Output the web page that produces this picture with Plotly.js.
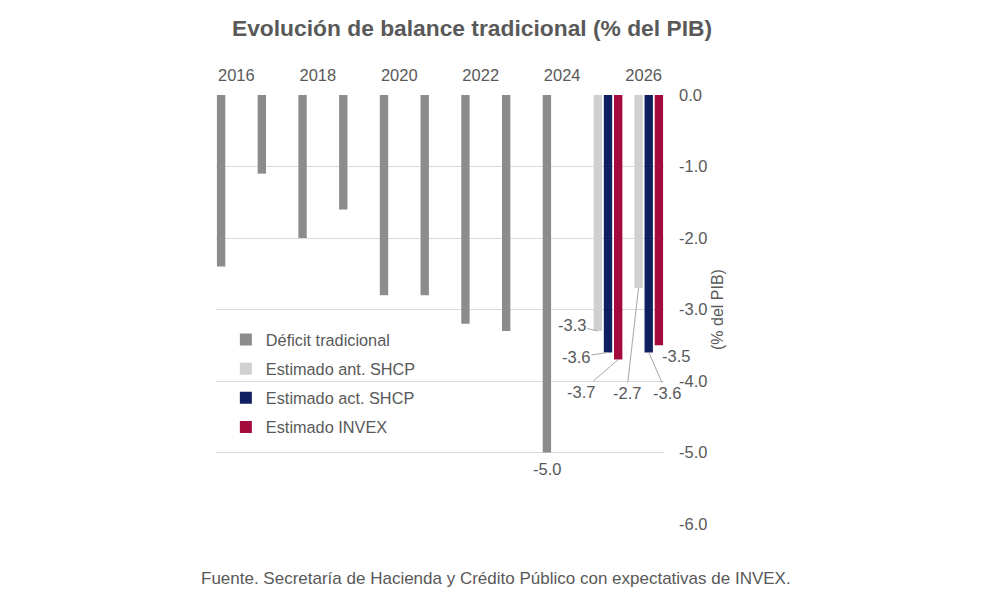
<!DOCTYPE html>
<html>
<head>
<meta charset="utf-8">
<script src="https://cdn.plot.ly/plotly-3.0.1.min.js"></script>
<style>
  html, body { margin: 0; padding: 0; background: #ffffff; }
  #chart { width: 1000px; height: 600px; }
</style>
</head>
<body>
<div id="chart"></div>
<script>
// ---- Data ----
const years = [2016, 2017, 2018, 2019, 2020, 2021, 2022, 2023, 2024, 2025, 2026];
const deficitTradicional = [-2.4, -1.1, -2.0, -1.6, -2.8, -2.8, -3.2, -3.3, -5.0, null, null];
const estimadoAntSHCP   = [null, null, null, null, null, null, null, null, null, -3.3, -2.7];
const estimadoActSHCP   = [null, null, null, null, null, null, null, null, null, -3.6, -3.6];
const estimadoINVEX     = [null, null, null, null, null, null, null, null, null, -3.7, -3.5];
const seriesNames = ["Déficit tradicional", "Estimado ant. SHCP", "Estimado act. SHCP", "Estimado INVEX"];
const topTickYears = [2016, 2018, 2020, 2022, 2024, 2026];
const yTicks = [0, -1, -2, -3, -4, -5, -6];

// ---- Styles ----
const colors = ["#8c8c8c", "#d0d0d0", "#0f1f5f", "#a50a3c"];
const textColor = "#595959";
const font = "Liberation Sans, Arial, sans-serif";
const allSeries = [deficitTradicional, estimadoAntSHCP, estimadoActSHCP, estimadoINVEX];

const traces = allSeries.map((vals, i) => ({
  type: "bar",
  name: seriesNames[i],
  x: years,
  y: vals,
  marker: { color: colors[i] },
  legendgroup: "g" + i,
  hoverinfo: "x+y+name"
}));

// label placement (pixel offsets from bar end), per series index and year
const labelPlacements = [
  { s: 0, year: 2024, arrow: false, xshift: 0, yshift: -16 },
  { s: 1, year: 2025, arrow: true, ax: -26, ay: -6 },
  { s: 2, year: 2025, arrow: true, ax: -32, ay: 5 },
  { s: 3, year: 2025, arrow: true, ax: -37, ay: 32 },
  { s: 1, year: 2026, arrow: true, ax: -12, ay: 105 },
  { s: 2, year: 2026, arrow: true, ax: 18, ay: 41 },
  { s: 3, year: 2026, arrow: false, xshift: 17, yshift: -11 }
];
const nSeries = allSeries.length;
const slotOffset = s => (s - (nSeries - 1) / 2) / nSeries;

const labelFont = { family: font, size: 16.5, color: textColor };
const annotations = labelPlacements.map(p => {
  const idx = years.indexOf(p.year);
  const v = allSeries[p.s][idx];
  const a = {
    x: p.year + slotOffset(p.s), y: v, xref: "x", yref: "y",
    text: v.toFixed(1),
    font: labelFont
  };
  if (p.arrow) {
    Object.assign(a, { showarrow: true, ax: p.ax, ay: p.ay, arrowhead: 0,
      arrowwidth: 1, arrowcolor: "#a6a6a6", standoff: 0 });
  } else {
    Object.assign(a, { showarrow: false, xshift: p.xshift, yshift: p.yshift });
  }
  return a;
});

annotations.push({
  text: "Fuente. Secretaría de Hacienda y Crédito Público con expectativas de INVEX.",
  xref: "paper", yref: "paper", x: 0.625, y: -0.126,
  xanchor: "center", yanchor: "middle", showarrow: false,
  font: { family: font, size: 17, color: textColor }
});

const layout = {
  width: 1000, height: 600,
  margin: { l: 216, r: 336, t: 95, b: 76 },
  paper_bgcolor: "#ffffff", plot_bgcolor: "#ffffff",
  font: { family: font, size: 16.5, color: textColor },
  title: {
    text: "<b>Evolución de balance tradicional (% del PIB)</b>",
    font: { family: font, size: 22.8, color: textColor },
    x: 0.472, xref: "container", xanchor: "center",
    y: 0.953, yref: "container", yanchor: "middle"
  },
  barmode: "group",
  bargap: 0,
  bargroupgap: 0.18,
  xaxis: {
    type: "linear", side: "top", range: [2015.5, 2026.5],
    tickvals: topTickYears, ticktext: topTickYears.map(String),
    showgrid: false, zeroline: false, showline: false, ticks: "",
    ticklabelstandoff: 10,
    tickfont: { family: font, size: 16.5, color: textColor },
    fixedrange: true
  },
  yaxis: {
    side: "right", range: [-6, 0], tickvals: yTicks,
    ticktext: yTicks.map(v => v.toFixed(1)),
    showgrid: true, gridcolor: "#d9d9d9", gridwidth: 1,
    zeroline: false, showline: false, ticks: "",
    ticklabelstandoff: 14,
    tickfont: { family: font, size: 16.5, color: textColor },
    title: { text: "(% del PIB)", font: { family: font, size: 16, color: textColor }, standoff: 5 },
    fixedrange: true
  },
  showlegend: true,
  legend: {
    x: 0.022, y: 0.47, xanchor: "left", yanchor: "top",
    bgcolor: "rgba(0,0,0,0)", borderwidth: 0,
    tracegroupgap: 5,
    font: { family: font, size: 16.3, color: textColor },
    traceorder: "grouped"
  },
  annotations: annotations
};

Plotly.newPlot("chart", traces, layout, { displayModeBar: false });
</script>
</body>
</html>
